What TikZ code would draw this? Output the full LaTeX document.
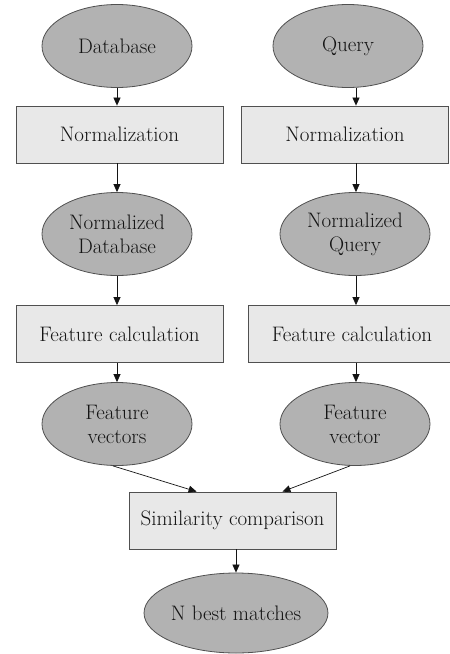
\documentclass[tikz,border=0pt]{standalone}
\usetikzlibrary{arrows.meta,shapes.geometric}
\definecolor{ovalfill}{HTML}{B2B2B2}
\definecolor{boxfill}{HTML}{E8E8E8}
\definecolor{edge}{HTML}{505050}
\definecolor{ink}{HTML}{141414}
\tikzset{
  labeltext/.style={text=ink, align=center, font=\fontsize{21}{24}\selectfont},
  oval/.style={ellipse, draw=edge, line width=0.8pt, fill=ovalfill, labeltext,
    minimum width=150pt, minimum height=83pt, inner sep=0pt},
  stepbox/.style={rectangle, draw=edge, line width=0.8pt, fill=boxfill, labeltext,
    minimum width=207pt, minimum height=57pt, inner sep=0pt},
  arr/.style={draw=ink, line width=0.7pt, -{Triangle[length=8pt,width=7pt]}}
}
\begin{document}
\begin{tikzpicture}[x=1pt,y=-1pt]
\useasboundingbox (0,0) rectangle (450,654);
\clip (0,0) rectangle (450,654);
\fill[white] (0,0) rectangle (450,654);

% left column: database branch
\node[oval]    (db)   at (117,46)    {Database};
\node[stepbox] (ndb)  at (119.5,134.5) {Normalization};
\node[oval]    (ndbo) at (117,234)   {Normalized\\Database};
\node[stepbox] (fdb)  at (119.5,334) {Feature calculation};
\node[oval]    (fvs)  at (117,424)   {Feature\\vectors};

% right column: query branch
\node[oval]    (q)    at (348,46)    {Query};
\node[stepbox] (nq)   at (345,134.5) {Normalization};
\node[oval]    (nqo)  at (355,234)   {Normalized\\Query};
\node[stepbox, minimum width=208pt] (fq) at (352,334) {Feature calculation};
\node[oval]    (fv)   at (355,424)   {Feature\\vector};

% merge and result
\node[stepbox] (sim)  at (232.5,520.5) {Similarity comparison};
\node[oval, minimum height=80pt] (best) at (236,613) {N best matches};

% vertical guides for the arrows
\coordinate (lx) at (117,0);
\coordinate (rx) at (356,0);
\coordinate (mx) at (236,0);

\draw[arr] (db.south -| lx)   -- (ndb.north -| lx);
\draw[arr] (ndb.south -| lx)  -- (ndbo.north -| lx);
\draw[arr] (ndbo.south -| lx) -- (fdb.north -| lx);
\draw[arr] (fdb.south -| lx)  -- (fvs.north -| lx);

\draw[arr] (q.south -| rx)    -- (nq.north -| rx);
\draw[arr] (nq.south -| rx)   -- (nqo.north -| rx);
\draw[arr] (nqo.south -| rx)  -- (fq.north -| rx);
\draw[arr] (fq.south -| rx)   -- (fv.north -| rx);

\coordinate (inl) at ([xshift=68pt]sim.north west);
\coordinate (inr) at ([xshift=-54pt]sim.north east);
\draw[arr] ([xshift=-4pt]fvs.south) -- (inl);
\draw[arr] ([xshift=-5pt]fv.south)  -- (inr);

\draw[arr] (sim.south -| mx) -- (best.north -| mx);
\end{tikzpicture}
\end{document}
